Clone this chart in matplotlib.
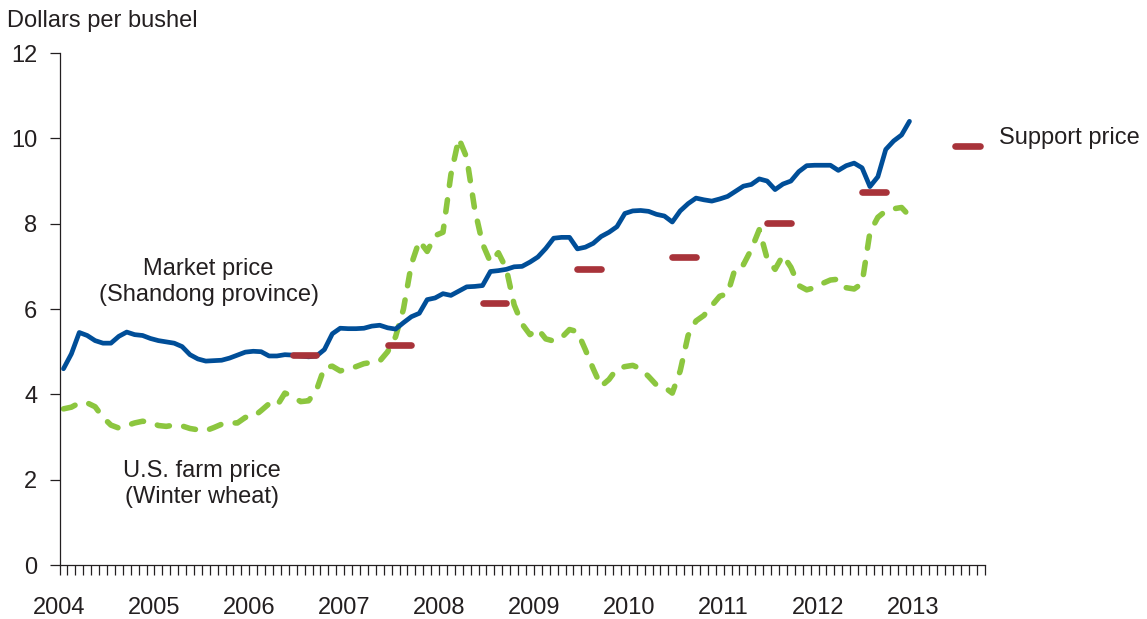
import matplotlib

matplotlib.use("Agg")
import matplotlib.pyplot as plt
import numpy as np

# monthly prices, Jan 2004 - Dec 2012 (dollars per bushel)
market_price = [
    4.60, 4.95, 5.45, 5.38, 5.26, 5.20, 5.20, 5.36, 5.46, 5.40, 5.38, 5.31,
    5.26, 5.23, 5.20, 5.12, 4.93, 4.83, 4.78, 4.79, 4.80, 4.85, 4.92, 4.99,
    5.01, 5.00, 4.90, 4.90, 4.93, 4.92, 4.90, 4.88, 4.90, 5.05, 5.42, 5.55,
    5.54, 5.54, 5.55, 5.60, 5.62, 5.56, 5.53, 5.68, 5.82, 5.90, 6.22, 6.26,
    6.36, 6.32, 6.42, 6.52, 6.53, 6.55, 6.88, 6.90, 6.93, 6.99, 7.00, 7.10,
    7.22, 7.42, 7.66, 7.68, 7.68, 7.41, 7.45, 7.54, 7.70, 7.80, 7.93, 8.24,
    8.30, 8.31, 8.29, 8.22, 8.18, 8.04, 8.30, 8.47, 8.60, 8.56, 8.53, 8.58,
    8.64, 8.76, 8.88, 8.92, 9.05, 9.00, 8.80, 8.93, 9.00, 9.22, 9.36, 9.37,
    9.37, 9.37, 9.25, 9.36, 9.42, 9.31, 8.87, 9.10, 9.74, 9.94, 10.08, 10.40,
]
farm_price = [
    3.66, 3.70, 3.80, 3.80, 3.71, 3.46, 3.28, 3.21, 3.27, 3.33, 3.37, 3.35,
    3.27, 3.25, 3.28, 3.26, 3.20, 3.17, 3.15, 3.22, 3.30, 3.33, 3.33, 3.46,
    3.47, 3.62, 3.78, 3.73, 4.03, 3.95, 3.83, 3.85, 4.10, 4.63, 4.66, 4.55,
    4.60, 4.65, 4.72, 4.75, 4.78, 5.00, 5.35, 6.00, 7.05, 7.60, 7.35, 7.72,
    7.80, 9.15, 10.00, 9.55, 8.35, 7.53, 7.10, 7.32, 6.95, 6.10, 5.65, 5.40,
    5.53, 5.30, 5.25, 5.33, 5.52, 5.47, 5.05, 4.60, 4.19, 4.35, 4.60, 4.65,
    4.68, 4.60, 4.42, 4.22, 4.17, 4.03, 4.55, 5.38, 5.72, 5.85, 6.08, 6.30,
    6.36, 6.98, 7.04, 7.40, 7.86, 7.18, 6.93, 7.26, 6.98, 6.55, 6.45, 6.50,
    6.60, 6.68, 6.70, 6.50, 6.47, 6.60, 7.80, 8.15, 8.30, 8.35, 8.38, 8.18,
]
support_years = [2006, 2007, 2008, 2009, 2010, 2011, 2012]
support_price = [4.93, 5.16, 6.13, 6.95, 7.22, 8.02, 8.75]
year_labels = [str(y) for y in range(2004, 2014)]

BLUE = "#004E98"
GREEN = "#8CC63F"
RED = "#A8333A"
TEXT = "#231F20"

plt.rcParams["font.family"] = ["Liberation Sans", "DejaVu Sans"]

fig = plt.figure(figsize=(11.47, 6.19), dpi=100)
ax = fig.add_axes([0.0519, 0.0872, 0.8065, 0.8271])

months = np.arange(len(market_price)) + 0.5
ax.plot(months, farm_price, color=GREEN, lw=4.0, linestyle=(0, (2.2, 2.6)),
        dash_capstyle="round", dash_joinstyle="round", zorder=2)
ax.plot(months, market_price, color=BLUE, lw=3.4, solid_joinstyle="round",
        solid_capstyle="round", zorder=3)

# support price shown for June-September of each year
for i, (yr, val) in enumerate(zip(support_years, support_price)):
    start = (yr - 2004) * 12 + 5 + 0.5
    ax.plot([start, start + 3], [val, val], color=RED, lw=4.8,
            solid_capstyle="round", zorder=4, label="Support price" if i == 0 else None)

ax.set_xlim(0, 117)
ax.set_ylim(0, 12)
ax.set_yticks(range(0, 13, 2))
ax.set_xticks(range(0, 118, 12))
ax.set_xticklabels(year_labels)
ax.set_xticks(range(0, 118), minor=True)

for side in ("top", "right"):
    ax.spines[side].set_visible(False)
for side in ("left", "bottom"):
    ax.spines[side].set_color(TEXT)
    ax.spines[side].set_linewidth(0.9)

ax.tick_params(axis="both", which="both", direction="out", length=7, width=0.9,
               color=TEXT, labelcolor=TEXT, labelsize=17)
ax.tick_params(axis="x", which="both", pad=16)
ax.tick_params(axis="y", pad=9)

# va="baseline" on two-line text pins the last line's baseline
ax.text(18.85, 6.20, "Market price\n(Shandong province)", ha="center", va="baseline",
        multialignment="center", fontsize=17, color=TEXT)
ax.text(17.96, 1.46, "U.S. farm price\n(Winter wheat)", ha="center", va="baseline",
        multialignment="center", fontsize=17, color=TEXT)

leg = ax.legend(loc="center left", bbox_to_anchor=(0.968, 0.835), frameon=False,
                fontsize=17, handlelength=1.05, handletextpad=0.8, borderpad=0,
                borderaxespad=0)
for t in leg.get_texts():
    t.set_color(TEXT)
# key sits near the text baseline in the original
for ln in leg.get_lines():
    ln.set_ydata(np.asarray(ln.get_ydata()) - 7.5)

fig.text(7 / 1147, 0.956, "Dollars per bushel", fontsize=17, color=TEXT, va="baseline")

fig.savefig("out.png", dpi=100)
plt.close(fig)
